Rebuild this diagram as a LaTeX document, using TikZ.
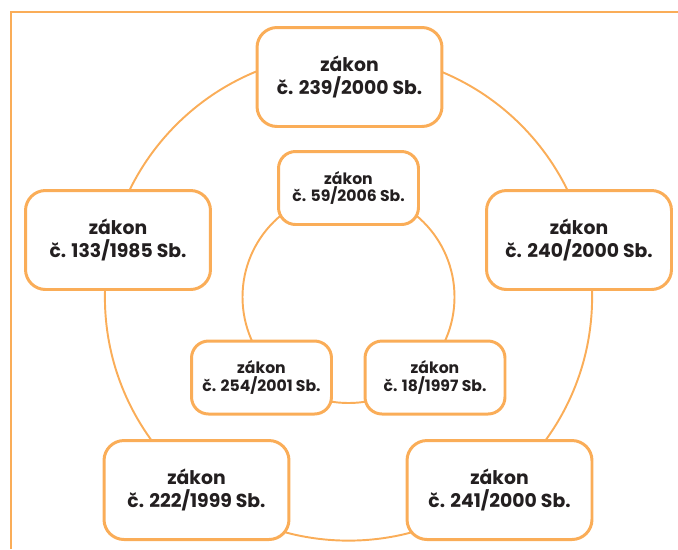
\documentclass[tikz,border=0pt]{standalone}
\usepackage{fontspec}
\setmainfont{Poppins}
\definecolor{laworange}{RGB}{250,173,88}
\definecolor{lawtext}{RGB}{35,31,32}
\tikzset{
  lawbox/.style={draw=laworange, fill=white, align=center, text=lawtext},
  bigbox/.style={lawbox, line width=1.7pt, rounded corners=0.4cm,
    minimum width=3.7cm, minimum height=1.98cm,
    font=\fontsize{10.7}{12.8}\selectfont\bfseries},
  smallbox/.style={lawbox, line width=1.7pt, rounded corners=0.34cm,
    minimum width=2.8cm, minimum height=1.46cm,
    font=\fontsize{8.9}{10.2}\selectfont\bfseries},
  ring/.style={draw=laworange, line width=1.1pt}
}
\begin{document}
\begin{tikzpicture}[x=0.02cm, y=-0.02cm]
\useasboundingbox (0,0) rectangle (678,549);
\draw[laworange, line width=0.6pt] (11,549) -- (11,12) -- (678,12);
% the two rings behind the boxes
\coordinate (hub) at (348.5,297);
\draw[ring] (hub) circle[radius=243.6];
\draw[ring] (hub) circle[radius=106];
% outer ring
\node[bigbox] (l239) at (349.5,77) {zákon\\č. 239/2000 Sb.};
\node[bigbox] (l240) at (579,240) {zákon\\č. 240/2000 Sb.};
\node[bigbox] (l241) at (499.5,490) {zákon\\č. 241/2000 Sb.};
\node[bigbox] (l222) at (196.5,490) {zákon\\č. 222/1999 Sb.};
\node[bigbox] (l133) at (118,240) {zákon\\č. 133/1985 Sb.};
% inner ring
\node[smallbox] (l59) at (348.5,188) {zákon\\č. 59/2006 Sb.};
\node[smallbox] (l18) at (435,377.5) {zákon\\č. 18/1997 Sb.};
\node[smallbox] (l254) at (261.5,377.5) {zákon\\č. 254/2001 Sb.};
\end{tikzpicture}
\end{document}
